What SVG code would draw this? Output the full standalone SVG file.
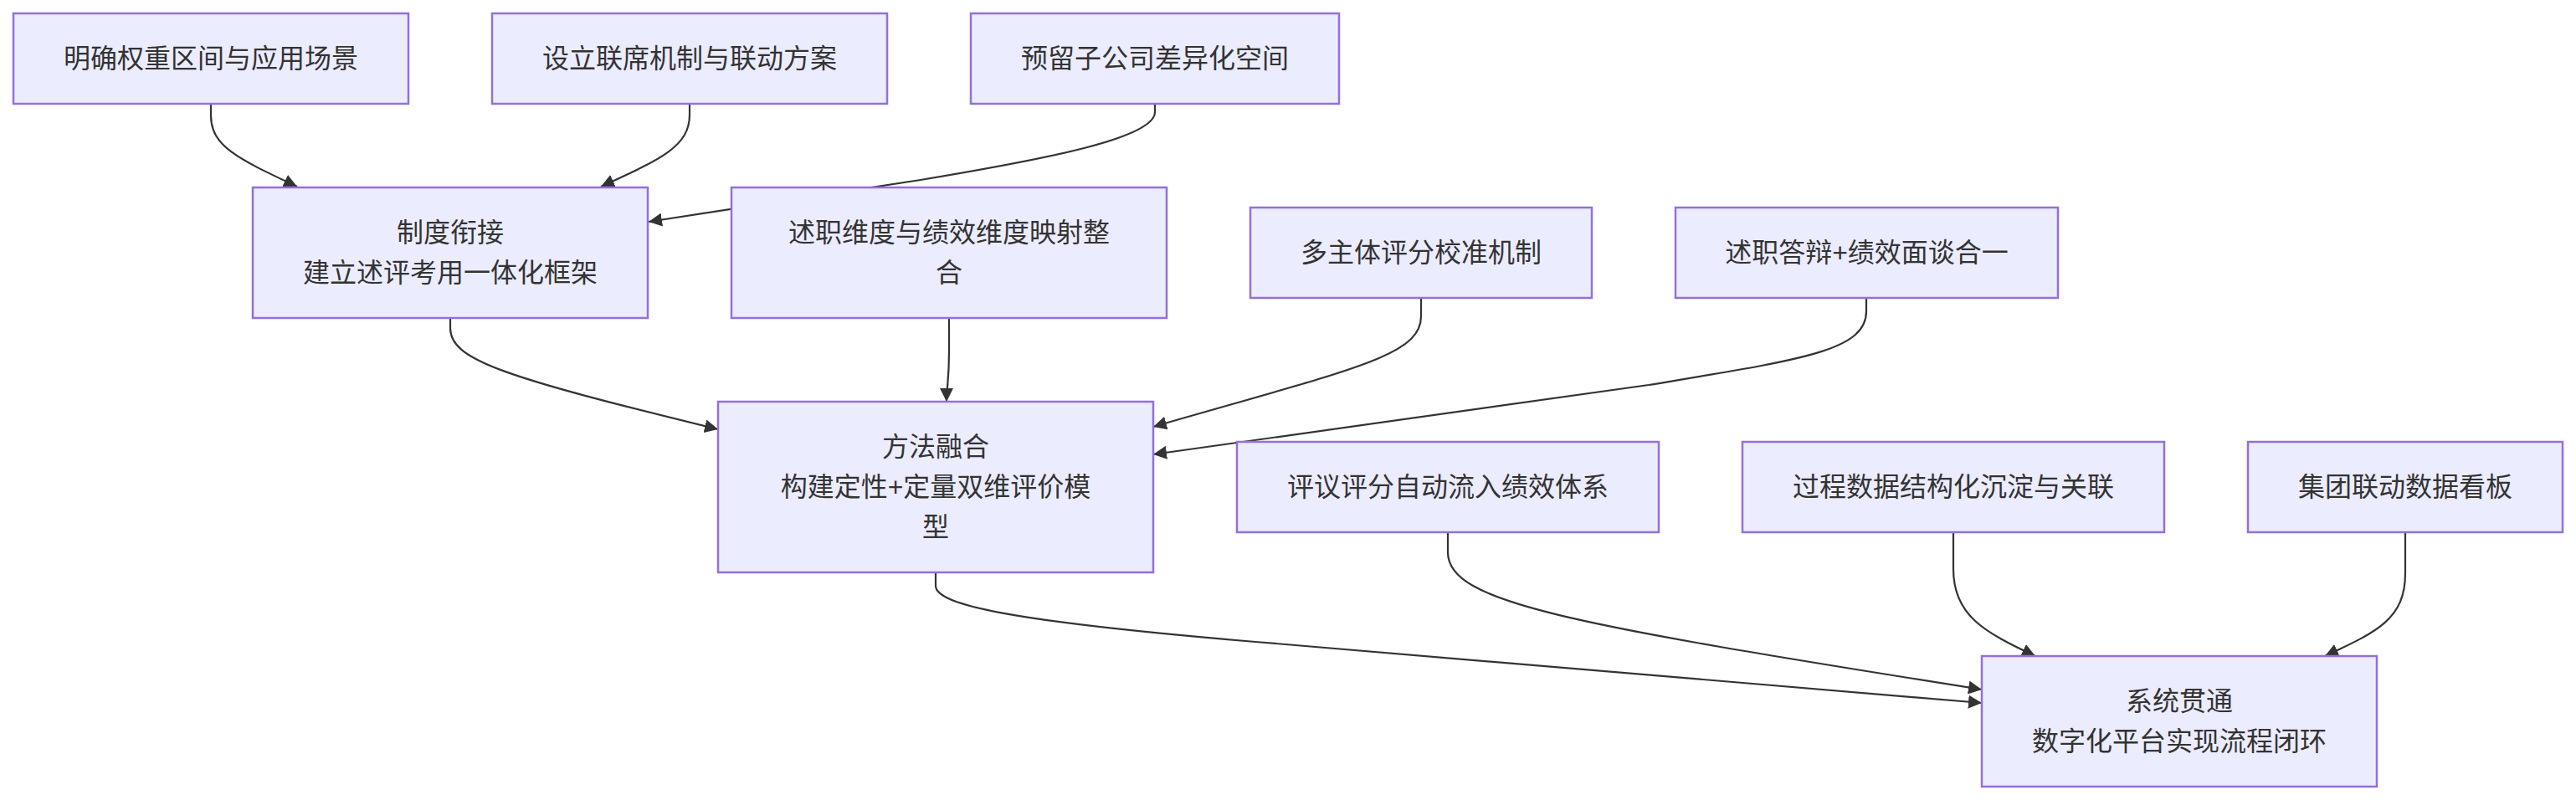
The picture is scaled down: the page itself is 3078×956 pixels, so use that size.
<svg xmlns="http://www.w3.org/2000/svg" width="3078" height="956" viewBox="0 0 3078 956">
<style>
.node rect{fill:#ECECFF;stroke:#9370DB;stroke-width:2.5}
.node text{fill:#333333;font-family:"Liberation Sans","Noto Sans CJK SC",sans-serif;font-size:32px;text-anchor:middle;dominant-baseline:central}
.edges path{fill:none;stroke:#333333;stroke-width:2.2}
</style>
<defs>
<marker id="arrow" viewBox="0 0 10 10" refX="10" refY="5" markerUnits="userSpaceOnUse" markerWidth="16" markerHeight="16" orient="auto">
<path d="M0,0 L10,5 L0,10 z" fill="#333333"/>
</marker>
</defs>
<rect width="3078" height="956" fill="#ffffff"/>
<g class="edges">
<path marker-end="url(#arrow)" d="M252,124 L252,138 C252,175 285,190 355,223"/>
<path marker-end="url(#arrow)" d="M824,124 L824,137 C824,175 790,190 718,223"/>
<path marker-end="url(#arrow)" d="M1380,124 L1380,134 C1380,165 1250,190 1100,215 L775,265"/>
<path marker-end="url(#arrow)" d="M538,380 L538,392 C538,430 600,450 858,513"/>
<path marker-end="url(#arrow)" d="M1134,380 L1134,420 C1134,455 1131,465 1131,480"/>
<path marker-end="url(#arrow)" d="M1698,356 L1698,378 C1698,425 1620,440 1378,510"/>
<path marker-end="url(#arrow)" d="M2230,356 L2230,372 C2230,420 2150,430 1970,460 L1378,543"/>
<path marker-end="url(#arrow)" d="M1118,684 L1118,700 C1118,722 1200,742 1500,767 L2368,840"/>
<path marker-end="url(#arrow)" d="M1730,636 L1730,660 C1730,720 1870,745 2368,824"/>
<path marker-end="url(#arrow)" d="M2334,636 L2334,680 C2334,735 2370,755 2432,784"/>
<path marker-end="url(#arrow)" d="M2874,636 L2874,685 C2874,740 2840,755 2778,784"/>
</g>
<g id="n1" class="node"><rect x="16" y="16" width="472" height="108"/><text x="252" y="70">明确权重区间与应用场景</text></g>
<g id="n2" class="node"><rect x="588" y="16" width="472" height="108"/><text x="824" y="70">设立联席机制与联动方案</text></g>
<g id="n3" class="node"><rect x="1160" y="16" width="440" height="108"/><text x="1380" y="70">预留子公司差异化空间</text></g>
<g id="n4" class="node"><rect x="302" y="224" width="472" height="156"/><text x="538" y="278">制度衔接</text><text x="538" y="326">建立述评考用一体化框架</text></g>
<g id="n5" class="node"><rect x="874" y="224" width="520" height="156"/><text x="1134" y="278">述职维度与绩效维度映射整</text><text x="1134" y="326">合</text></g>
<g id="n6" class="node"><rect x="1494" y="248" width="408" height="108"/><text x="1698" y="302">多主体评分校准机制</text></g>
<g id="n7" class="node"><rect x="2002" y="248" width="457" height="108"/><text x="2230.5" y="302">述职答辩+绩效面谈合一</text></g>
<g id="n8" class="node"><rect x="858" y="480" width="520" height="204"/><text x="1118" y="534">方法融合</text><text x="1118" y="582">构建定性+定量双维评价模</text><text x="1118" y="630">型</text></g>
<g id="n9" class="node"><rect x="1478" y="528" width="504" height="108"/><text x="1730" y="582">评议评分自动流入绩效体系</text></g>
<g id="n10" class="node"><rect x="2082" y="528" width="504" height="108"/><text x="2334" y="582">过程数据结构化沉淀与关联</text></g>
<g id="n11" class="node"><rect x="2686" y="528" width="376" height="108"/><text x="2874" y="582">集团联动数据看板</text></g>
<g id="n12" class="node"><rect x="2368" y="784" width="472" height="156"/><text x="2604" y="838">系统贯通</text><text x="2604" y="886">数字化平台实现流程闭环</text></g>
</svg>
